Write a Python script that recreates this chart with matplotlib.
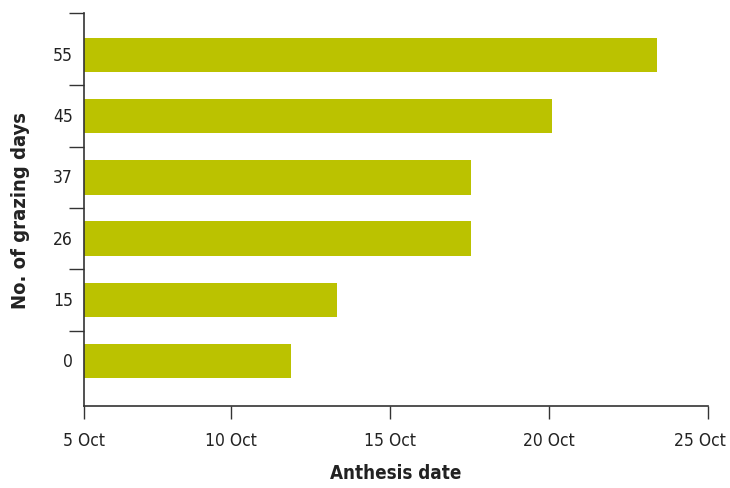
import matplotlib.pyplot as plt

grazing_days = ["0", "15", "26", "37", "45", "55"]
anthesis_day = [11.9, 13.35, 17.55, 17.55, 20.1, 23.4]  # day of October

x_start = 5.38
tick_days = [x_start, 10, 15, 20, 25]
tick_labels = ["5 Oct", "10 Oct", "15 Oct", "20 Oct", "25 Oct"]

plt.rcParams["font.family"] = ["DejaVu Sans"]
plt.rcParams["font.stretch"] = "condensed"

fig = plt.figure(figsize=(7.3, 4.89), dpi=100)
ax = fig.add_axes([0.115, 0.168, 0.855, 0.803])

y = list(range(len(grazing_days)))
widths = [d - x_start for d in anthesis_day]
ax.barh(y, widths, left=x_start, height=0.56, color="#bbc200", edgecolor="none")

ax.set_xlim(x_start, 25)
ax.set_ylim(-0.73, 5.68)

ax.set_xticks(tick_days)
ax.set_xticklabels([])
for d, lab in zip(tick_days, tick_labels):
    dx = -6 if d == tick_days[-1] else 0  # keep last label inside the figure
    ax.annotate(lab, xy=(d, 0), xycoords=ax.get_xaxis_transform(),
                xytext=(dx, -18), textcoords="offset points",
                ha="center", va="top", fontsize=12.5, color="#222222")

ax.set_yticks([0.5, 1.5, 2.5, 3.5, 4.5, 5.68])
ax.set_yticklabels([])
for i, lab in enumerate(grazing_days):
    ax.text(x_start - 0.35, i, lab, ha="right", va="center", fontsize=12.5, color="#222222")

ax.tick_params(axis="x", length=9.5, width=1, colors="#333333")
ax.tick_params(axis="y", length=11, width=1, colors="#333333")

for side in ["top", "right"]:
    ax.spines[side].set_visible(False)
for side in ["left", "bottom"]:
    ax.spines[side].set_color("#333333")
    ax.spines[side].set_linewidth(1.2)

ax.set_xlabel("Anthesis date", fontsize=13.5, fontweight="bold", labelpad=28, color="#222222")
ax.set_ylabel("No. of grazing days", fontsize=14.5, fontweight="bold", labelpad=24, color="#222222")

fig.savefig("out.png", dpi=100)
